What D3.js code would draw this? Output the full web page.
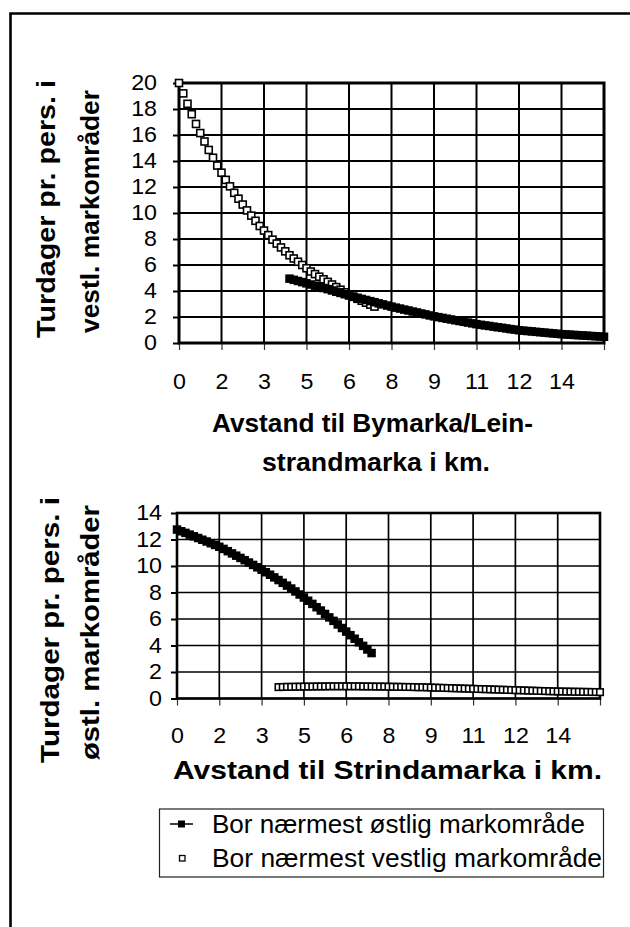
<!DOCTYPE html>
<html><head><meta charset="utf-8">
<script src="https://cdn.jsdelivr.net/npm/d3@7"></script>
<style>body{margin:0;background:#fff}svg{display:block}</style>
</head><body>
<script>
// ---------- DATA ----------
const categoryCount = 101; // distance categories on the category axis
const xTickLabels = ["0","2","3","5","6","8","9","11","12","14",""]; // one label every 10th category
const topYTicks = [0,2,4,6,8,10,12,14,16,18,20];
const bottomYTicks = [0,2,4,6,8,10,12,14];

// Top chart: visits per person to western areas
const westTopStart = 0;
const westTopValues = [20.0,19.2,18.4,17.6,16.85,16.15,15.5,14.85,14.25,13.65,
  13.1,12.55,12.05,11.55,11.1,10.65,10.2,9.8,9.4,9.0,
  8.65,8.3,7.95,7.65,7.35,7.05,6.75,6.5,6.25,6.0,
  5.75,5.5,5.3,5.1,4.9,4.7,4.5,4.3,4.1,3.9,
  3.72,3.55,3.4,3.25,3.1,2.95,2.8];
const eastTopStart = 26;
const eastTopValues = [4.95,4.86,4.77,4.68,
  4.59,4.5,4.41,4.32,4.23,4.14,4.04,3.94,3.85,3.75,
  3.65,3.56,3.48,3.39,3.31,3.22,3.14,3.05,2.97,2.88,
  2.8,2.72,2.65,2.57,2.5,2.42,2.35,2.27,2.2,2.12,
  2.05,1.99,1.93,1.87,1.81,1.75,1.69,1.63,1.57,1.51,
  1.45,1.4,1.35,1.31,1.26,1.21,1.17,1.12,1.07,1.03,
  0.98,0.95,0.92,0.89,0.86,0.83,0.8,0.77,0.74,0.71,
  0.68,0.66,0.64,0.62,0.6,0.58,0.56,0.54,0.52,0.5,0.48];

// Bottom chart: visits per person to eastern areas
const eastBottomStart = 0;
const eastBottomValues = [12.75,12.62,12.5,12.37,12.24,12.11,11.98,11.85,11.72,11.59,
  11.45,11.29,11.12,10.95,10.78,10.61,10.44,10.26,10.08,9.9,
  9.72,9.53,9.34,9.14,8.94,8.73,8.52,8.3,8.08,7.85,
  7.62,7.38,7.14,6.89,6.64,6.38,6.12,5.86,5.59,5.32,
  5.05,4.78,4.51,4.24,3.97,3.7,3.43];
const westBottomStart = 24;
const westBottomValues = [0.86,0.87,0.88,0.88,0.89,0.89,
  0.9,0.9,0.9,0.91,0.91,0.91,0.92,0.92,0.92,0.92,
  0.92,0.92,0.92,0.92,0.91,0.91,0.91,0.9,0.9,0.9,
  0.89,0.89,0.88,0.88,0.87,0.87,0.86,0.85,0.85,0.84,
  0.83,0.82,0.81,0.8,0.79,0.78,0.77,0.76,0.75,0.74,
  0.73,0.72,0.71,0.7,0.69,0.68,0.67,0.66,0.65,0.64,
  0.63,0.62,0.61,0.6,0.59,0.58,0.57,0.56,0.55,0.54,
  0.53,0.53,0.52,0.52,0.51,0.51,0.5,0.5,0.49,0.49,0.48];

const topYTitle = ["Turdager pr. pers. i", "vestl. markområder"];
const topXTitle = ["Avstand til Bymarka/Lein-", "strandmarka i km."];
const bottomYTitle = ["Turdager pr. pers. i", "østl. markområder"];
const bottomXTitle = ["Avstand til Strindamarka i km."];
const legendLabels = ["Bor nærmest østlig markområde", "Bor nærmest vestlig markområde"];

// ---------- DRAW ----------
const FONT = "'Liberation Sans', Arial, Helvetica, sans-serif";
const W = 630, H = 927;
const svg = d3.select("body").append("svg").attr("width", W).attr("height", H)
  .style("font-family", FONT);

// outer frame (top and left edges visible)
svg.append("path").attr("d", `M10.5,${H} V13.5 H${W}`)
  .attr("fill", "none").attr("stroke", "#000").attr("stroke-width", 2.6);

function stretch(sel, f) {
  sel.each(function () {
    const w = this.getComputedTextLength();
    if (w > 0) {
      this.setAttribute("textLength", w * f);
      this.setAttribute("lengthAdjust", "spacingAndGlyphs");
    }
  });
}

const xTickValues = xTickLabels.map((_, i) => i * 10);

function drawChart(c) {
  const g = svg.append("g");
  const x = d3.scaleLinear().domain([0, categoryCount - 1]).range([c.left, c.right]);
  const y = d3.scaleLinear().domain([0, c.yMax]).range([c.bottom, c.top]);

  // gridlines
  g.append("g").selectAll("line.h").data(c.yTicks).join("line")
    .attr("x1", c.left).attr("x2", c.right)
    .attr("y1", d => y(d)).attr("y2", d => y(d))
    .attr("stroke", "#000").attr("stroke-width", c.grid);
  g.append("g").selectAll("line.v").data(xTickValues).join("line")
    .attr("x1", d => x(d)).attr("x2", d => x(d))
    .attr("y1", c.top).attr("y2", c.bottom)
    .attr("stroke", "#000").attr("stroke-width", c.grid);

  // axes
  const ya = g.append("g").attr("transform", `translate(${c.left},0)`)
    .call(d3.axisLeft(y).tickValues(c.yTicks).tickSize(6).tickPadding(c.yPad).tickFormat(d3.format("d")));
  ya.select(".domain").remove();
  ya.selectAll(".tick line").attr("stroke-width", 2);
  ya.selectAll("text").attr("font-size", 21.5).attr("font-family", FONT).attr("fill", "#000");
  stretch(ya.selectAll("text"), 1.08);

  const xa = g.append("g").attr("transform", `translate(0,${c.bottom})`)
    .call(d3.axisBottom(x).tickValues(xTickValues).tickSize(7).tickPadding(c.xPad)
      .tickFormat((d, i) => xTickLabels[i]));
  xa.select(".domain").remove();
  xa.selectAll(".tick line").attr("stroke-width", 1.2).attr("stroke", "#333");
  xa.selectAll("text").attr("font-size", 21.5).attr("font-family", FONT).attr("fill", "#000");
  stretch(xa.selectAll("text"), 1.08);

  // plot border
  g.append("rect").attr("x", c.left).attr("y", c.top)
    .attr("width", c.right - c.left).attr("height", c.bottom - c.top)
    .attr("fill", "none").attr("stroke", "#000").attr("stroke-width", c.border);

  // series
  c.series.forEach(s => {
    const pts = s.values.map((v, i) => ({ i: s.start + i, v }));
    if (s.type === "east") {
      g.append("path").datum(pts)
        .attr("d", d3.line().x(d => x(d.i)).y(d => y(d.v)))
        .attr("fill", "none").attr("stroke", "#000").attr("stroke-width", 3);
      const sz = c.eastSize;
      g.append("g").selectAll("rect").data(pts).join("rect")
        .attr("x", d => x(d.i) - sz / 2).attr("y", d => y(d.v) - sz / 2)
        .attr("width", sz).attr("height", sz).attr("fill", "#000");
    } else {
      const sz = c.westSize;
      g.append("g").selectAll("rect").data(pts).join("rect")
        .attr("x", d => x(d.i) - sz / 2).attr("y", d => y(d.v) - sz / 2)
        .attr("width", sz).attr("height", sz)
        .attr("fill", "#fff").attr("stroke", "#000").attr("stroke-width", 1.6);
    }
  });

  // titles
  c.yTitle.forEach((t, k) => {
    svg.append("text").text(t)
      .attr("transform", `translate(${c.yTitlePos[k][0]},${c.yTitlePos[k][1]}) rotate(-90)`)
      .attr("text-anchor", "middle").attr("font-size", 25.5).attr("font-weight", "bold")
      .attr("textLength", c.yTitlePos[k][2]).attr("lengthAdjust", "spacingAndGlyphs");
  });
  c.xTitle.forEach((t, k) => {
    svg.append("text").text(t)
      .attr("x", c.xTitlePos[k][0]).attr("y", c.xTitlePos[k][1])
      .attr("text-anchor", "middle").attr("font-size", 25.5).attr("font-weight", "bold")
      .attr("textLength", c.xTitlePos[k][2]).attr("lengthAdjust", "spacingAndGlyphs");
  });
}

drawChart({
  left: 179, right: 604, top: 83, bottom: 343, yMax: 20, yTicks: topYTicks,
  border: 3, grid: 2, yPad: 16, xPad: 24, eastSize: 8.5, westSize: 7,
  series: [
    { start: westTopStart, values: westTopValues, type: "west" },
    { start: eastTopStart, values: eastTopValues, type: "east" }
  ],
  yTitle: topYTitle, yTitlePos: [[55, 209, 258], [99, 211.5, 243]],
  xTitle: topXTitle, xTitlePos: [[372.5, 432, 321], [376, 471, 228]]
});

drawChart({
  left: 177, right: 600, top: 513, bottom: 698.5, yMax: 14, yTicks: bottomYTicks,
  border: 2.6, grid: 1.7, yPad: 9, xPad: 22, eastSize: 8.5, westSize: 6.5,
  series: [
    { start: westBottomStart, values: westBottomValues, type: "west" },
    { start: eastBottomStart, values: eastBottomValues, type: "east" }
  ],
  yTitle: bottomYTitle, yTitlePos: [[59, 630, 266], [99, 632.5, 255]],
  xTitle: bottomXTitle, xTitlePos: [[387.5, 779, 429]]
});

// legend
const lg = svg.append("g");
lg.append("rect").attr("x", 159.5).attr("y", 809).attr("width", 444).attr("height", 68)
  .attr("fill", "#fff").attr("stroke", "#222").attr("stroke-width", 1.2);
const rowY = [824, 858];
legendLabels.forEach((t, k) => {
  lg.append("text").text(t).attr("x", 212).attr("y", rowY[k]).attr("dy", "0.35em")
    .attr("font-size", 26).attr("textLength", k === 0 ? 373 : 390)
    .attr("lengthAdjust", "spacingAndGlyphs");
});
lg.append("line").attr("x1", 170).attr("x2", 193).attr("y1", rowY[0]).attr("y2", rowY[0])
  .attr("stroke", "#000").attr("stroke-width", 1.5);
lg.append("rect").attr("x", 178).attr("y", rowY[0] - 3.5).attr("width", 7).attr("height", 7).attr("fill", "#000");
lg.append("rect").attr("x", 179.5).attr("y", rowY[1] - 2.5).attr("width", 5.5).attr("height", 5.5)
  .attr("fill", "#fff").attr("stroke", "#000").attr("stroke-width", 1.3);
</script>
</body></html>
